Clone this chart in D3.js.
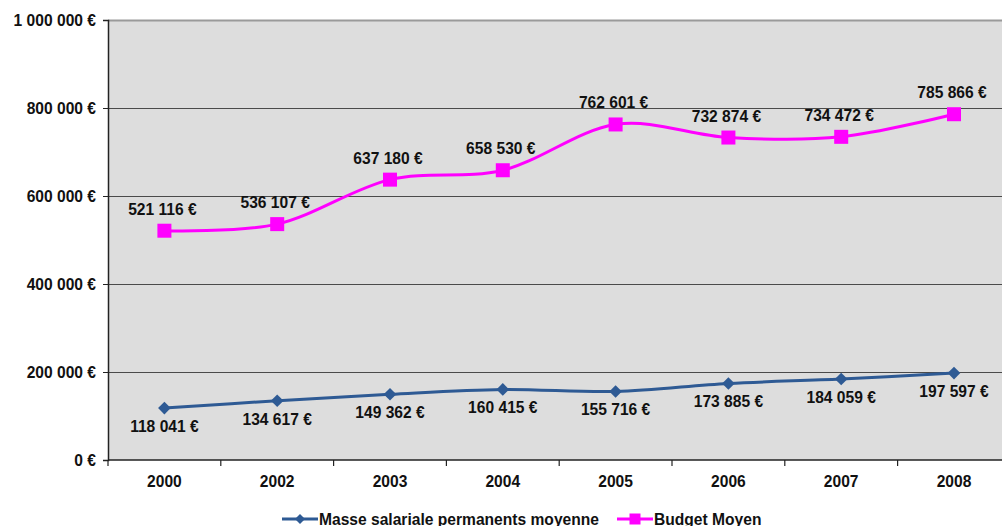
<!DOCTYPE html>
<html>
<head>
<meta charset="utf-8">
<script src="https://cdn.jsdelivr.net/npm/d3@7"></script>
<style>
  html, body { margin: 0; padding: 0; background: #fff; }
  svg { display: block; font-family: "Liberation Sans", Arial, sans-serif; }
</style>
</head>
<body>
<svg id="chart" width="1002" height="526"></svg>
<script>
// Years on the horizontal axis
const years = ["2000", "2002", "2003", "2004", "2005", "2006", "2007", "2008"];
// Average permanent payroll (€)
const masseSalariale = [118041, 134617, 149362, 160415, 155716, 173885, 184059, 197597];
// Average budget (€)
const budgetMoyen = [521116, 536107, 637180, 658530, 762601, 732874, 734472, 785866];
// Y axis tick values
const yTicks = [0, 200000, 400000, 600000, 800000, 1000000];
// Series names for the legend
const seriesNames = ["Masse salariale permanents moyenne", "Budget Moyen"];

const svg = d3.select("#chart");
const plot = { left: 108, top: 20, bottom: 460, step: 112.8 };
plot.right = plot.left + plot.step * years.length;

const frLocale = d3.formatLocale({ decimal: ",", thousands: "\u00a0", grouping: [3], currency: ["", "\u00a0€"] });
const fmt = v => frLocale.format(",")(v) + "\u00a0€";

const x = d3.scaleBand().domain(years).range([plot.left, plot.right]);
const y = d3.scaleLinear().domain([0, 1000000]).range([plot.bottom, plot.top]);
const cx = d => x(d) + x.bandwidth() / 2;

const FS = 15.6;

// Plot area background
svg.append("rect")
  .attr("x", plot.left).attr("y", plot.top)
  .attr("width", plot.right - plot.left).attr("height", plot.bottom - plot.top)
  .attr("fill", "#dddddd");

// Horizontal gridlines
svg.append("g").selectAll("line")
  .data(yTicks.filter(t => t > 0))
  .join("line")
  .attr("x1", plot.left).attr("x2", plot.right)
  .attr("y1", d => y(d) + 0.5).attr("y2", d => y(d) + 0.5)
  .attr("stroke", d => d === 1000000 ? "#9a9a9a" : "#4a4a4a")
  .attr("stroke-width", d => d === 1000000 ? 2 : 1.2);

// Y axis
const yAxis = svg.append("g")
  .attr("transform", `translate(${plot.left},0)`)
  .call(d3.axisLeft(y).tickValues(yTicks).tickFormat(fmt).tickSize(5).tickPadding(7));
yAxis.select(".domain").attr("stroke", "#222").attr("stroke-width", 1.5);
yAxis.selectAll(".tick line").attr("stroke", "#222");
yAxis.selectAll(".tick text")
  .attr("font-family", "Liberation Sans, Arial, sans-serif")
  .attr("font-size", FS).attr("font-weight", "bold").attr("fill", "#111");

// X axis with ticks between categories
const xAxisG = svg.append("g").attr("transform", `translate(0,${plot.bottom})`);
xAxisG.append("line")
  .attr("x1", plot.left).attr("x2", plot.right)
  .attr("stroke", "#222").attr("stroke-width", 1.5);
xAxisG.selectAll("line.tk")
  .data(d3.range(years.length + 1))
  .join("line").attr("class", "tk")
  .attr("x1", i => plot.left + i * x.step()).attr("x2", i => plot.left + i * x.step())
  .attr("y1", 0).attr("y2", 6)
  .attr("stroke", "#222").attr("stroke-width", 1.2);
xAxisG.selectAll("text")
  .data(years)
  .join("text")
  .attr("x", d => cx(d)).attr("y", 27)
  .attr("text-anchor", "middle")
  .attr("font-size", FS).attr("font-weight", "bold").attr("fill", "#111")
  .text(d => d);

const curve = d3.curveCardinal.tension(0);
const line = d3.line().x(d => cx(d.year)).y(d => y(d.value)).curve(curve);

const blueColor = "#2e5a94";
const pinkColor = "#ff00ff";

const blueData = years.map((yr, i) => ({ year: yr, value: masseSalariale[i] }));
const pinkData = years.map((yr, i) => ({ year: yr, value: budgetMoyen[i] }));

// Payroll series
svg.append("path").datum(blueData)
  .attr("d", line).attr("fill", "none")
  .attr("stroke", blueColor).attr("stroke-width", 3);
svg.append("g").selectAll("path")
  .data(blueData).join("path")
  .attr("transform", d => `translate(${cx(d.year)},${y(d.value)}) rotate(45)`)
  .attr("d", d3.symbol(d3.symbolSquare, 80)())
  .attr("fill", blueColor);
svg.append("g").selectAll("text")
  .data(blueData).join("text")
  .attr("x", d => cx(d.year)).attr("y", d => y(d.value) + 24)
  .attr("text-anchor", "middle")
  .attr("font-size", FS).attr("font-weight", "bold").attr("fill", "#111")
  .text(d => fmt(d.value));

// Budget series
svg.append("path").datum(pinkData)
  .attr("d", line).attr("fill", "none")
  .attr("stroke", pinkColor).attr("stroke-width", 3);
svg.append("g").selectAll("rect")
  .data(pinkData).join("rect")
  .attr("x", d => cx(d.year) - 7).attr("y", d => y(d.value) - 7)
  .attr("width", 14).attr("height", 14)
  .attr("fill", pinkColor);
svg.append("g").selectAll("text")
  .data(pinkData).join("text")
  .attr("x", d => cx(d.year) - 2).attr("y", d => y(d.value) - 16)
  .attr("text-anchor", "middle")
  .attr("font-size", FS).attr("font-weight", "bold").attr("fill", "#111")
  .text(d => fmt(d.value));

// Legend
const legend = svg.append("g").attr("transform", "translate(0,519)");
const legendItems = [
  { name: seriesNames[0], color: blueColor, x0: 282, shape: "diamond" },
  { name: seriesNames[1], color: pinkColor, x0: 617, shape: "square" }
];
legendItems.forEach(it => {
  legend.append("line")
    .attr("x1", it.x0).attr("x2", it.x0 + 36)
    .attr("y1", 0).attr("y2", 0)
    .attr("stroke", it.color).attr("stroke-width", 3);
  if (it.shape === "diamond") {
    legend.append("path")
      .attr("transform", `translate(${it.x0 + 18},0) rotate(45)`)
      .attr("d", d3.symbol(d3.symbolSquare, 50)())
      .attr("fill", it.color);
  } else {
    legend.append("rect")
      .attr("x", it.x0 + 18 - 5.5).attr("y", -5.5)
      .attr("width", 11).attr("height", 11)
      .attr("fill", it.color);
  }
  legend.append("text")
    .attr("x", it.x0 + 37).attr("y", 5.5)
    .attr("font-size", FS).attr("font-weight", "bold").attr("fill", "#111")
    .text(it.name);
});
</script>
</body>
</html>
